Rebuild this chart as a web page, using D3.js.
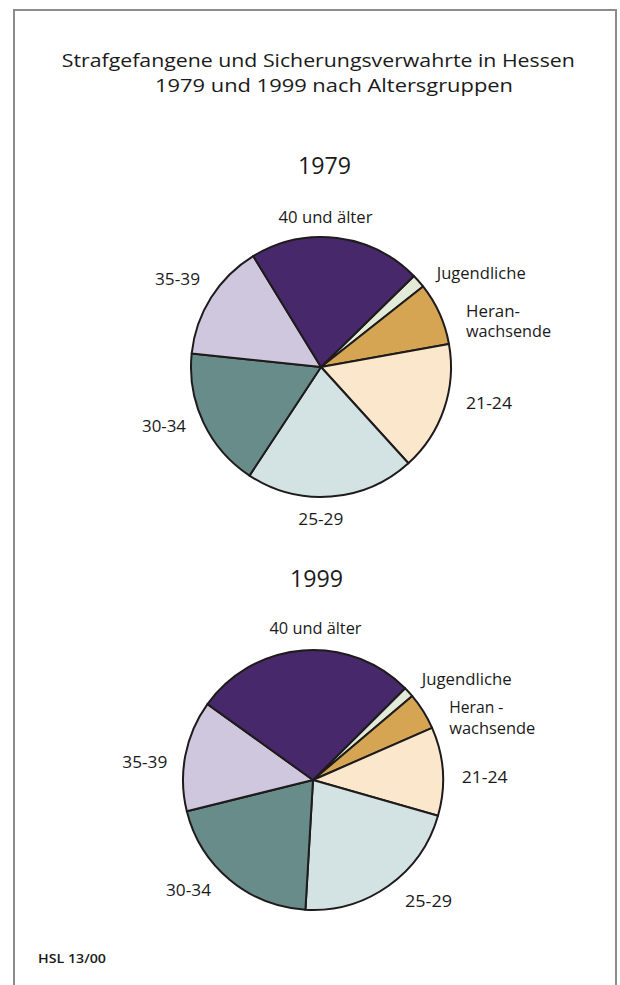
<!DOCTYPE html>
<html>
<head>
<meta charset="utf-8">
<script src="https://cdn.jsdelivr.net/npm/d3@7"></script>
<style>
  html, body { margin: 0; padding: 0; background: #fff; }
  svg { display: block; }
  text { font-family: "Open Sans", "Noto Sans", sans-serif; fill: #1a1a1a; }
</style>
</head>
<body>
<svg id="chart" width="620" height="985"></svg>
<script>
// Age groups, in drawing order (clockwise)
const groups = ["Jugendliche", "Heranwachsende", "21-24", "25-29", "30-34", "35-39", "40 und älter"];
// Share of prisoners per age group, percent
const values1979 = [1.7, 7.8, 16.1, 21.0, 17.4, 14.6, 21.4];
const values1999 = [1.3, 4.6, 11.0, 21.5, 20.2, 13.8, 27.6];
const years = ["1979", "1999"];
const titleLines = ["Strafgefangene und Sicherungsverwahrte in Hessen", "1979 und 1999 nach Altersgruppen"];
const sourceNote = "HSL 13/00";

const colors = d3.scaleOrdinal()
  .domain(groups)
  .range(["#e1ebd7", "#d5a553", "#fbe8cc", "#d3e3e3", "#678c8a", "#cfc7de", "#47296b"]);

const svg = d3.select("#chart");

// outer frame
svg.append("path")
  .attr("d", "M14,990 V10 H616 V990")
  .attr("fill", "none")
  .attr("stroke", "#8c8c8c")
  .attr("stroke-width", 2);

// title
const titleSpec = [
  { x: 318.3, y: 66.7, w: 513 },
  { x: 334, y: 91.7, w: 358 }
];
titleLines.forEach((t, i) => {
  svg.append("text")
    .attr("x", titleSpec[i].x - titleSpec[i].w / 2)
    .attr("y", titleSpec[i].y)
    .attr("font-size", 18)
    .attr("textLength", titleSpec[i].w)
    .attr("lengthAdjust", "spacingAndGlyphs")
    .text(t);
});

const radius = 130;
const deg = Math.PI / 180;

// layout of the two pies and their labels (offsets from pie centre)
const charts = [
  {
    year: years[0], values: values1979, cx: 321, cy: 367, start: 45.6,
    labels: [
      { lines: ["Jugendliche"], dx: 115.7, dy: -87.7, anchor: "start", w: [89] },
      { lines: ["Heran-", "wachsende"], dx: 145, dy: -50.3, anchor: "start", w: [54, 85] },
      { lines: ["21-24"], dx: 145, dy: 42.3, anchor: "start", w: [46] },
      { lines: ["25-29"], dx: -0.2, dy: 158, anchor: "middle", w: [45] },
      { lines: ["30-34"], dx: -135, dy: 64.7, anchor: "end", w: [44] },
      { lines: ["35-39"], dx: -121, dy: -82, anchor: "end", w: [45] },
      { lines: ["40 und älter"], dx: 4.5, dy: -143.7, anchor: "middle", w: [94] }
    ]
  },
  {
    year: years[1], values: values1999, cx: 313, cy: 780, start: 45.1,
    labels: [
      { lines: ["Jugendliche"], dx: 108.7, dy: -95, anchor: "start", w: [90] },
      { lines: ["Heran -", "wachsende"], dx: 136.3, dy: -66.7, anchor: "start", w: [54, 86] },
      { lines: ["21-24"], dx: 148.7, dy: 3, anchor: "start", w: [46] },
      { lines: ["25-29"], dx: 92, dy: 126.7, anchor: "start", w: [47] },
      { lines: ["30-34"], dx: -102, dy: 116, anchor: "end", w: [45] },
      { lines: ["35-39"], dx: -145.7, dy: -11.7, anchor: "end", w: [45] },
      { lines: ["40 und älter"], dx: 2.5, dy: -145.7, anchor: "middle", w: [92] }
    ]
  }
];

const arc = d3.arc().innerRadius(0).outerRadius(radius);

charts.forEach(c => {
  const pie = d3.pie().sort(null)
    .startAngle(c.start * deg)
    .endAngle(c.start * deg + 2 * Math.PI);
  const data = groups.map((g, i) => ({ group: g, value: c.values[i] }));
  const arcs = pie.value(d => d.value)(data);

  const g = svg.append("g").attr("transform", `translate(${c.cx},${c.cy})`);

  g.selectAll("path")
    .data(arcs)
    .join("path")
    .attr("d", arc)
    .attr("fill", d => colors(d.data.group))
    .attr("stroke", "#1f1b1c")
    .attr("stroke-width", 2)
    .attr("stroke-linejoin", "round");

  // year heading
  svg.append("text")
    .attr("x", c.cx + 3.5)
    .attr("y", c.cy - 193)
    .attr("text-anchor", "middle")
    .attr("font-size", 23)
    .attr("textLength", 53)
    .attr("lengthAdjust", "spacingAndGlyphs")
    .text(c.year);

  // slice labels
  c.labels.forEach(l => {
    l.lines.forEach((line, j) => {
      svg.append("text")
        .attr("x", c.cx + l.dx)
        .attr("y", c.cy + l.dy + j * 20.6)
        .attr("text-anchor", l.anchor)
        .attr("font-size", 16)
        .attr("textLength", l.w[j])
        .attr("lengthAdjust", "spacingAndGlyphs")
        .text(line);
    });
  });
});

// source note
svg.append("text")
  .attr("x", 38)
  .attr("y", 963)
  .attr("font-size", 13)
  .attr("font-weight", 600)
  .attr("textLength", 68)
  .attr("lengthAdjust", "spacingAndGlyphs")
  .text(sourceNote);
</script>
</body>
</html>
